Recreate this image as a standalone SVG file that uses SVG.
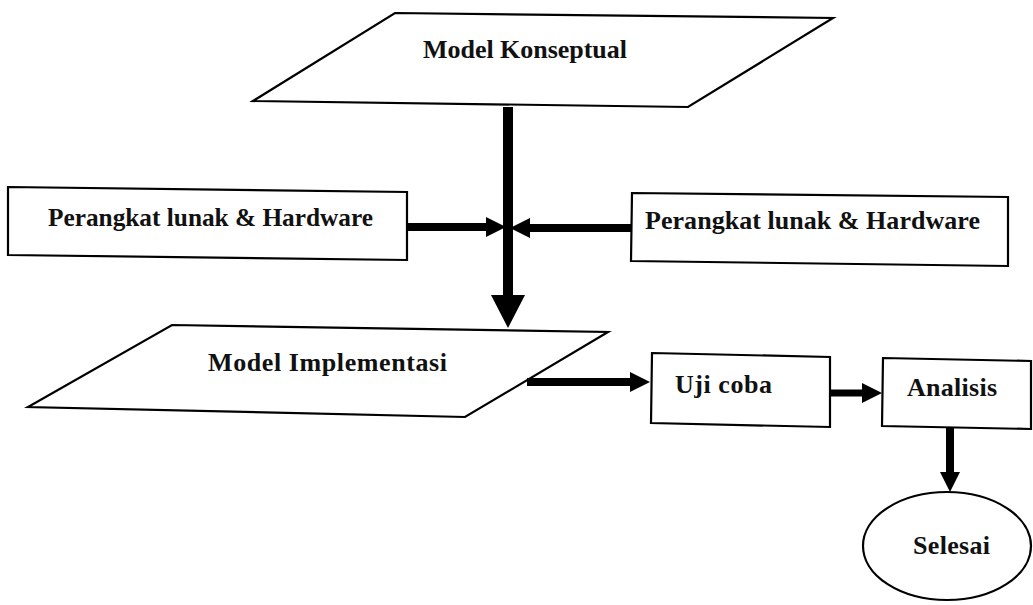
<svg xmlns="http://www.w3.org/2000/svg" width="1033" height="605" viewBox="0 0 1033 605">
<style>
.shape{fill:#fff;stroke:#000;stroke-width:2.2;stroke-linejoin:miter}
.lbl{font-family:"Liberation Serif","Times New Roman",serif;font-weight:bold;font-size:26px;fill:#111}
.conn{stroke:#000;fill:none}
</style>
<defs>
<marker id="ah" markerUnits="userSpaceOnUse" viewBox="0 0 20 20" refX="0" refY="10" markerWidth="20" markerHeight="20" orient="auto">
<path d="M0,0 L20,10 L0,20 Z" fill="#000"/>
</marker>
<marker id="ahBig" markerUnits="userSpaceOnUse" viewBox="0 0 33 34" refX="0" refY="17" markerWidth="33" markerHeight="34" orient="auto">
<path d="M0,0 L33,17 L0,34 Z" fill="#000"/>
</marker>
</defs>
<rect width="1033" height="605" fill="#fff"/>
<g id="model-konseptual">
<polygon class="shape" points="395,13 833,18 688,107 253,101"/>
<text class="lbl" x="423" y="58" font-size="24" textLength="204" lengthAdjust="spacing">Model Konseptual</text>
</g>
<g id="perangkat-kiri">
<polygon class="shape" points="8,187 407,192 407,260 8,255"/>
<text class="lbl" x="48" y="226" textLength="325" lengthAdjust="spacingAndGlyphs">Perangkat lunak &amp; Hardware</text>
</g>
<g id="perangkat-kanan">
<polygon class="shape" points="632,193 1008,197 1008,266 631,261"/>
<text class="lbl" x="645" y="229" textLength="335" lengthAdjust="spacing">Perangkat lunak &amp; Hardware</text>
</g>
<g id="model-implementasi">
<polygon class="shape" points="172,325 608,332 465,417 28,407"/>
<text class="lbl" x="208" y="371" font-size="25" textLength="239" lengthAdjust="spacing">Model Implementasi</text>
</g>
<g id="uji-coba">
<polygon class="shape" points="652,353 830,357 830,427 651,423"/>
<text class="lbl" x="675" y="393" textLength="97" lengthAdjust="spacing">Uji coba</text>
</g>
<g id="analisis">
<polygon class="shape" points="883,358 1031,361 1031,429 882,426"/>
<text class="lbl" x="907" y="396" textLength="90" lengthAdjust="spacing">Analisis</text>
</g>
<g id="selesai">
<ellipse class="shape" cx="947" cy="546" rx="84" ry="54"/>
<text class="lbl" x="913" y="554" textLength="77" lengthAdjust="spacing">Selesai</text>
</g>
<g id="connectors">
<path class="conn" stroke-width="10" d="M508,107 V295" marker-end="url(#ahBig)"/>
<path class="conn" stroke-width="8" d="M407,227 H486" marker-end="url(#ah)"/>
<path class="conn" stroke-width="8" d="M632,228 H530" marker-end="url(#ah)"/>
<path class="conn" stroke-width="8" d="M527,382 H630" marker-end="url(#ah)"/>
<path class="conn" stroke-width="7" d="M830,393 H862" marker-end="url(#ah)"/>
<path class="conn" stroke-width="8" d="M950,428 V472" marker-end="url(#ah)"/>
</g>
</svg>
